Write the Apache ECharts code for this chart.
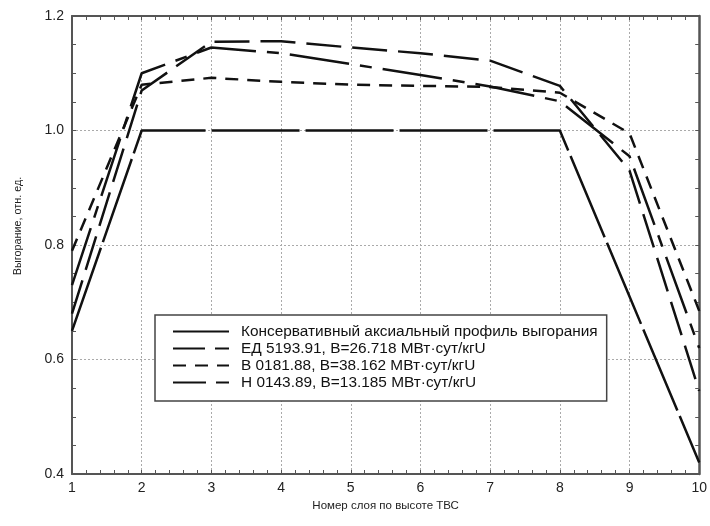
<!DOCTYPE html>
<html>
<head>
<meta charset="utf-8">
<script src="https://cdn.jsdelivr.net/npm/echarts@6/dist/echarts.min.js"></script>
<style>
  html, body { margin: 0; padding: 0; background: #fff; }
  #chart { width: 710px; height: 526px; }
</style>
</head>
<body>
<div id="chart"></div>
<script>
// номер слоя по высоте ТВС
var layers = [1, 2, 3, 4, 5, 6, 7, 8, 9, 10];
var yTicks = ['0.4', '0.6', '0.8', '1.0', '1.2'];

var names = [
  'Консервативный аксиальный профиль выгорания',
  'ЕД 5193.91, B=26.718 МВт·сут/кгU',
  'В 0181.88, B=38.162 МВт·сут/кгU',
  'Н 0143.89, B=13.185 МВт·сут/кгU'
];

var conservative = [0.65, 1.0, 1.0, 1.0, 1.0, 1.0, 1.0, 1.0, 0.71, 0.42];
var ed5193 = [0.73, 1.10, 1.145, 1.135, 1.116, 1.097, 1.077, 1.051, 0.955, 0.62];
var v0181 = [0.79, 1.08, 1.092, 1.085, 1.08, 1.078, 1.076, 1.066, 0.995, 0.685];
var n0143 = [0.68, 1.07, 1.155, 1.156, 1.145, 1.135, 1.122, 1.078, 0.93, 0.545];

function pairs(vals) {
  return layers.map(function (x, i) { return [x, vals[i]]; });
}

var font = 'Liberation Sans, Arial, sans-serif';
var frameColor = '#555';
var gridLine = { show: true, lineStyle: { color: '#aaa', width: 1, type: [2, 2] } };

function line(name, vals, dash) {
  return {
    name: name,
    type: 'line',
    data: pairs(vals),
    symbol: 'none',
    lineStyle: { color: '#111', width: 2.5, type: dash },
    itemStyle: { color: '#111' }
  };
}

var myChart = echarts.init(document.getElementById('chart'));

var option = {
  animation: false,
  backgroundColor: '#fff',
  grid: { left: 72, right: 10, top: 16, bottom: 52 },
  legend: {
    orient: 'vertical',
    left: 155,
    top: 315,
    backgroundColor: '#fff',
    borderColor: '#444',
    borderWidth: 1.5,
    borderRadius: 0,
    padding: [8, 9, 10, 17],
    itemWidth: 56,
    itemHeight: 10,
    itemGap: 0,
    itemStyle: { opacity: 0 },
    textStyle: { fontFamily: font, fontSize: 15.4, color: '#111', lineHeight: 17, padding: [0, 0, 0, 7] },
    data: [
      { name: names[0], lineStyle: { type: 'solid' } },
      { name: names[1], lineStyle: { type: [32, 10, 15, 10] } },
      names[2],
      { name: names[3], lineStyle: { type: [33, 10] } }
    ]
  },
  xAxis: [
    {
      type: 'value',
      min: 1, max: 10, interval: 1,
      name: 'Номер слоя по высоте ТВС',
      nameLocation: 'middle',
      nameGap: 26,
      nameTextStyle: { fontFamily: font, fontSize: 11.5, color: '#222' },
      axisLine: { show: true, lineStyle: { color: frameColor, width: 2 } },
      axisTick: { show: true, inside: true, length: 4, lineStyle: { color: frameColor } },
      minorTick: { show: true, splitNumber: 5, length: 4, lineStyle: { color: frameColor } },
      axisLabel: { fontFamily: font, fontSize: 14, color: '#222', margin: 7 },
      splitLine: gridLine
    },
    {
      type: 'value',
      position: 'top',
      min: 1, max: 10, interval: 1,
      axisLine: { show: true, onZero: false, lineStyle: { color: frameColor, width: 2 } },
      axisTick: { show: true, inside: true, length: 4, lineStyle: { color: frameColor } },
      minorTick: { show: true, splitNumber: 5, length: 4, lineStyle: { color: frameColor } },
      axisLabel: { show: false },
      splitLine: { show: false }
    }
  ],
  yAxis: [
    {
      type: 'value',
      min: 0.4, max: 1.2, interval: 0.2,
      name: 'Выгорание, отн. ед.',
      nameLocation: 'middle',
      nameGap: 48,
      nameTextStyle: { fontFamily: font, fontSize: 10.8, color: '#222', padding: [0, 0, 0, 38] },
      axisLine: { show: true, onZero: false, lineStyle: { color: frameColor, width: 2 } },
      axisTick: { show: true, inside: true, length: 4, lineStyle: { color: frameColor } },
      minorTick: { show: true, splitNumber: 4, length: 4, lineStyle: { color: frameColor } },
      axisLabel: {
        fontFamily: font, fontSize: 14, color: '#222', margin: 8,
        formatter: function (v) {
          var s = v.toFixed(1);
          return yTicks.indexOf(s) >= 0 ? s : '';
        }
      },
      splitLine: gridLine
    },
    {
      type: 'value',
      position: 'right',
      min: 0.4, max: 1.2, interval: 0.2,
      axisLine: { show: true, onZero: false, lineStyle: { color: frameColor, width: 2.5 } },
      axisTick: { show: true, inside: true, length: 4, lineStyle: { color: frameColor } },
      minorTick: { show: true, splitNumber: 4, length: 4, lineStyle: { color: frameColor } },
      axisLabel: { show: false },
      splitLine: { show: false }
    }
  ],
  series: [
    line(names[0], conservative, [88, 6]),
    line(names[1], ed5193, [60, 11, 12, 11]),
    line(names[2], v0181, [13, 9]),
    line(names[3], n0143, [35, 11])
  ]
};

option && myChart.setOption(option);
</script>
</body>
</html>
